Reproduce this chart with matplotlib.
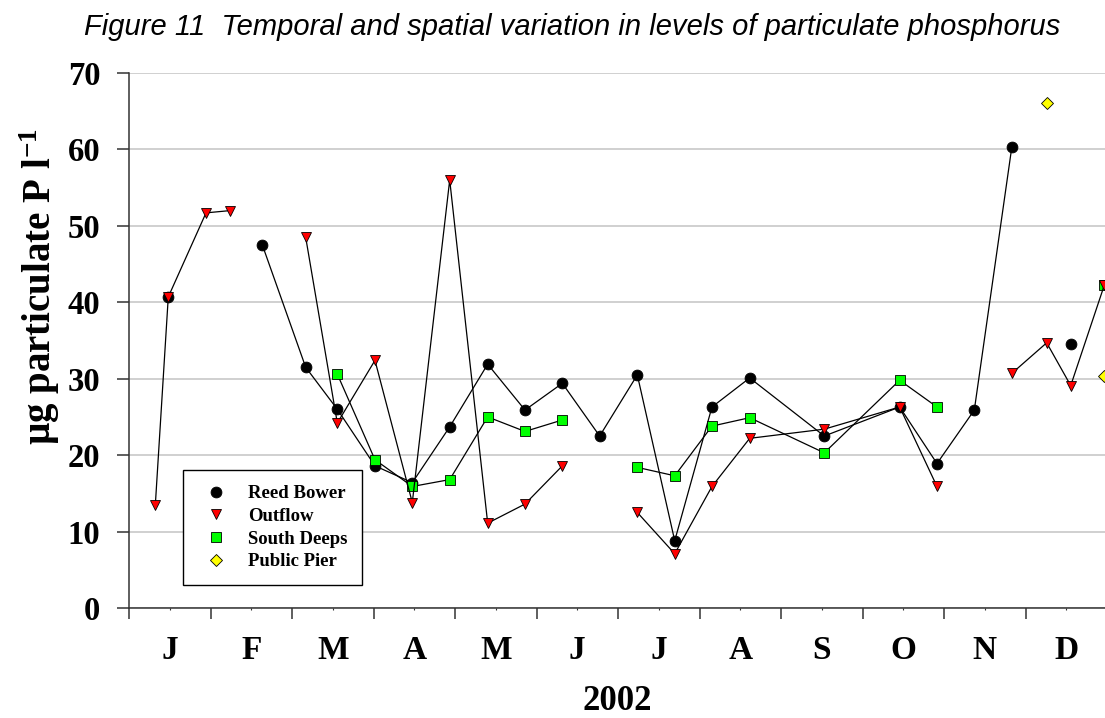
import numpy as np
import matplotlib
matplotlib.use("Agg")
import matplotlib.pyplot as plt
from matplotlib.lines import Line2D
from matplotlib.font_manager import FontProperties

# ---------------- data ----------------
months = ["J", "F", "M", "A", "M", "J", "J", "A", "S", "O", "N", "D"]

# sampling positions in months from 1 Jan 2002 (0 = start of Jan, 12 = end of Dec)
sample_pos = [0.323, 0.482, 0.945, 1.243, 1.636, 2.168, 2.556, 3.018, 3.476,
              3.935, 4.401, 4.859, 5.317, 5.775, 6.237, 6.696, 7.153, 7.616,
              8.531, 9.456, 9.914, 10.372, 10.832, 11.260, 11.555, 11.969]

nan = np.nan
reed_bower = [nan, 40.7, nan, nan, 47.5, 31.5, 26.0, 18.6, 16.4, 23.7, 31.9,
              25.9, 29.4, 22.5, 30.5, 8.8, 26.3, 30.1, 22.5, 26.3, 18.9, 25.9,
              60.3, nan, 34.6, nan]
outflow = [13.5, 40.7, 51.7, 52.0, nan, 48.5, 24.2, 32.4, 13.8, 56.0, 11.1,
           13.6, 18.6, nan, 12.5, 7.1, 15.9, 22.2, 23.4, 26.3, 15.9, nan,
           30.7, 34.7, 29.1, 42.3]
south_deeps = [nan, nan, nan, nan, nan, nan, 30.6, 19.4, 15.9, 16.8, 25.0,
               23.1, 24.6, nan, 18.4, 17.3, 23.8, 24.9, 20.3, 29.8, 26.3, nan,
               nan, nan, nan, 42.3]
public_pier = [nan, nan, nan, nan, nan, nan, nan, nan, nan, nan, nan, nan,
               nan, nan, nan, nan, nan, nan, nan, nan, nan, nan, nan, 66.1,
               nan, 30.3]

series_names = ["Reed Bower", "Outflow", "South Deeps", "Public Pier"]
y_ticks = [0, 10, 20, 30, 40, 50, 60, 70]

# ---------------- style ----------------
plt.rcParams["font.family"] = ["Liberation Serif", "DejaVu Serif"]
plt.rcParams["font.weight"] = "bold"
plt.rcParams["mathtext.fontset"] = "custom"
plt.rcParams["mathtext.rm"] = "Liberation Serif:bold"
plt.rcParams["mathtext.bf"] = "Liberation Serif:bold"
plt.rcParams["mathtext.it"] = "Liberation Serif:bold"

W, H = 1105, 718
fig = plt.figure(figsize=(W / 100, H / 100), dpi=100)
ax = fig.add_axes([129 / W, 1 - 608 / H, 978 / W, 535 / H])

styles = [
    dict(marker="o", ms=7.8, mfc="black", zorder=3),
    dict(marker="v", ms=7.8, mfc="#ff0000", zorder=5),
    dict(marker="s", ms=6.6, mfc="#00ff00", zorder=4),
    dict(marker="D", ms=6.4, mfc="#ffff00", zorder=6),
]
data = [reed_bower, outflow, south_deeps, public_pier]

for vals, st in zip(data, styles):
    ax.plot(sample_pos, vals, color="black", lw=0.9, marker=st["marker"],
            ms=st["ms"], mfc=st["mfc"], mec="black", mew=0.6,
            zorder=st["zorder"], clip_on=True)

ax.set_xlim(0, 12)
ax.set_ylim(0, 70)

ax.set_xticks(np.arange(0, 13))
ax.set_xticklabels([])
ax.set_xticks(np.arange(12) + 0.5, minor=True)
ax.set_xticklabels(months, minor=True)
ax.set_yticks(y_ticks)
ax.set_yticklabels([str(v) for v in y_ticks])

axis_col = "#333333"
ax.tick_params(axis="x", which="major", direction="out", length=8,
               width=1.1, color=axis_col)
ax.tick_params(axis="x", which="minor", direction="out", length=1.5,
               width=0.8, color=axis_col, pad=18, labelsize=24)
ax.tick_params(axis="y", which="major", direction="out", length=8.6,
               width=1.1, color=axis_col, pad=12, labelsize=23.5)

for s in ["top", "right"]:
    ax.spines[s].set_visible(False)
for s in ["left", "bottom"]:
    ax.spines[s].set_color(axis_col)
    ax.spines[s].set_linewidth(1.1)

ax.yaxis.grid(True, color="#c8c8c8", linewidth=1.2)
ax.set_axisbelow(True)

# legend
handles = [Line2D([], [], ls="none", marker=st["marker"], ms=st["ms"],
                  mfc=st["mfc"], mec="black", mew=0.6) for st in styles]
leg = ax.legend(handles, series_names, loc="upper left",
                bbox_to_anchor=(183 / W, 1 - 470 / H),
                bbox_transform=fig.transFigure, frameon=True, fancybox=False,
                edgecolor="black", framealpha=1, borderpad=0.8,
                handlelength=1.9, handletextpad=0.75, labelspacing=0.3,
                borderaxespad=0,
                prop=FontProperties(family="Liberation Serif", weight="bold",
                                    size=13.5))
leg.get_frame().set_linewidth(1.0)
leg.set_zorder(10)

# texts
fig.text(84 / W, 1 - 35 / H,
         "Figure 11  Temporal and spatial variation in levels of particulate phosphorus",
         family="Liberation Sans", style="italic", weight="normal",
         fontsize=21, ha="left", va="baseline")
fig.text(617 / W, 1 - 710 / H, "2002", fontsize=25, weight="bold",
         ha="center", va="baseline")
fig.text(40 / W, 1 - 287 / H, r"µg particulate P l$^{\mathrm{-1}}$",
         fontsize=28, weight="bold", rotation=90, ha="center", va="center")

fig.savefig("out.png", dpi=100)
